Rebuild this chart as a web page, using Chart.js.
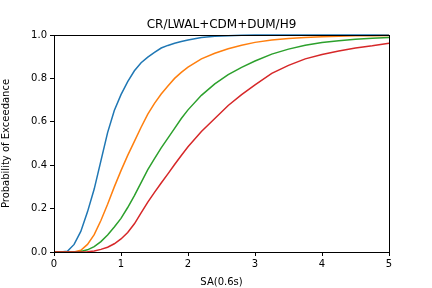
<!DOCTYPE html>
<html lang="en">
<head>
    <meta charset="UTF-8">
    <title>CR/LWAL+CDM+DUM/H9</title>
    <script src="https://cdn.jsdelivr.net/npm/chart.js@4.4.0/dist/chart.umd.min.js"></script>
    <style>
        html, body { margin: 0; padding: 0; background: #fff; }
        #wrap { width: 432px; height: 288px; }
    </style>
</head>
<body>
    <div id="wrap"><canvas id="chart" width="432" height="288"></canvas></div>

    <script>
        // SA(0.6s) sample points
        const saValues = [0, 0.1, 0.2, 0.3, 0.4, 0.5, 0.6, 0.7, 0.8, 0.9, 1.0, 1.1, 1.2, 1.3, 1.4, 1.5, 1.6, 1.7, 1.8, 1.9, 2.0,
                          2.2, 2.4, 2.6, 2.8, 3.0, 3.25, 3.5, 3.75, 4.0, 4.25, 4.5, 4.75, 5.0];

        // probability of exceedance, one array per damage state
        const ds1 = [0, 0, 0.003, 0.035, 0.095, 0.185, 0.29, 0.42, 0.55, 0.652, 0.725, 0.785, 0.835, 0.872, 0.898, 0.92, 0.94, 0.952, 0.962, 0.97, 0.977,
                     0.988, 0.994, 0.997, 0.999, 1, 1, 1, 1, 1, 1, 1, 1, 1];
        const ds2 = [0, 0, 0, 0, 0.008, 0.035, 0.08, 0.145, 0.22, 0.30, 0.375, 0.445, 0.51, 0.575, 0.635, 0.685, 0.728, 0.765, 0.80, 0.828, 0.852,
                     0.89, 0.916, 0.937, 0.953, 0.966, 0.977, 0.984, 0.989, 0.992, 0.994, 0.996, 0.997, 0.998];
        const ds3 = [0, 0, 0, 0, 0.002, 0.01, 0.025, 0.048, 0.078, 0.115, 0.155, 0.205, 0.26, 0.32, 0.38, 0.43, 0.48, 0.525, 0.57, 0.615, 0.655,
                     0.722, 0.775, 0.817, 0.851, 0.88, 0.912, 0.935, 0.953, 0.965, 0.973, 0.98, 0.985, 0.989];
        const ds4 = [0, 0, 0, 0, 0, 0.001, 0.005, 0.012, 0.022, 0.038, 0.06, 0.09, 0.13, 0.18, 0.23, 0.275, 0.318, 0.36, 0.403, 0.445, 0.485,
                     0.555, 0.615, 0.675, 0.725, 0.77, 0.823, 0.86, 0.89, 0.91, 0.926, 0.94, 0.95, 0.962];

        const xTicks = [0, 1, 2, 3, 4, 5];
        const yTicks = [0, 0.2, 0.4, 0.6, 0.8, 1.0];

        const colors = ['#1f77b4', '#ff7f0e', '#2ca02c', '#d62728'];
        const font = "'DejaVu Sans', sans-serif";

        const series = [ds1, ds2, ds3, ds4];
        const datasets = series.map((s, i) => ({
            data: s.map((y, j) => ({ x: saValues[j], y: y })),
            borderColor: colors[i],
            borderWidth: 1.5,
            pointRadius: 0,
            tension: 0,
            fill: false,
            order: series.length - i
        }));

        // box around the plot area (matplotlib spines), title centred over the axes
        const frame = {
            id: 'frame',
            afterLayout(chart) {
                if (chart.titleBlock) {
                    chart.titleBlock.left = chart.chartArea.left;
                    chart.titleBlock.right = chart.chartArea.right;
                }
            },
            afterDatasetsDraw(chart) {
                const a = chart.chartArea;
                const ctx = chart.ctx;
                ctx.save();
                ctx.strokeStyle = '#000';
                ctx.lineWidth = 1;
                ctx.strokeRect(Math.round(a.left) + 0.5, Math.round(a.top) + 0.5,
                               Math.round(a.right - a.left), Math.round(a.bottom - a.top));
                ctx.restore();
            }
        };

        new Chart(document.getElementById('chart'), {
            type: 'line',
            data: { datasets: datasets },
            plugins: [frame],
            options: {
                responsive: false,
                animation: false,
                clip: false,
                layout: { padding: { left: 0, right: 43, top: 0, bottom: 0 } },
                plugins: {
                    legend: { display: false },
                    tooltip: { enabled: false },
                    title: {
                        display: true,
                        text: 'CR/LWAL+CDM+DUM/H9',
                        color: '#000',
                        font: { family: font, size: 12, weight: 'normal' },
                        padding: { top: 18, bottom: 2.6 }
                    }
                },
                scales: {
                    x: {
                        type: 'linear',
                        min: 0, max: 5,
                        afterBuildTicks: axis => { axis.ticks = xTicks.map(v => ({ value: v })); },
                        afterFit: axis => { axis.height = 36; },
                        grid: { display: true, drawOnChartArea: false, drawTicks: true, tickLength: 4, color: '#000' },
                        border: { display: false },
                        ticks: { color: '#000', font: { family: font, size: 10 }, padding: 2, maxRotation: 0 },
                        title: { display: true, text: 'SA(0.6s)', color: '#000', font: { family: font, size: 10 }, padding: { top: 3, bottom: 0 } }
                    },
                    y: {
                        min: 0, max: 1,
                        afterBuildTicks: axis => { axis.ticks = yTicks.map(v => ({ value: v })); },
                        afterFit: axis => { axis.width = 54; },
                        grid: { display: true, drawOnChartArea: false, drawTicks: true, tickLength: 4, color: '#000' },
                        border: { display: false },
                        ticks: { color: '#000', font: { family: font, size: 10 }, padding: 3, callback: v => v.toFixed(1) },
                        title: { display: true, text: 'Probability of Exceedance', color: '#000', font: { family: font, size: 10 }, padding: { top: 0, bottom: 4 } }
                    }
                }
            }
        });
    </script>
</body>
</html>
